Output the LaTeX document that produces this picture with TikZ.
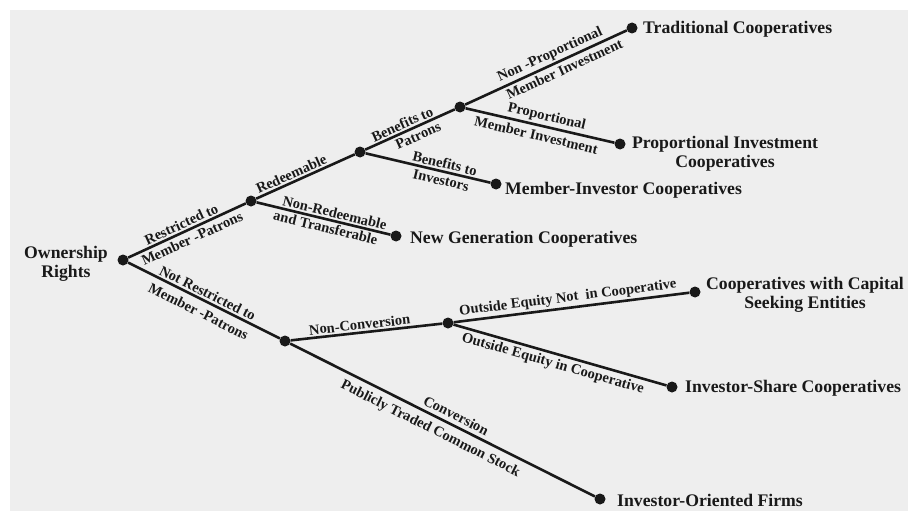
\documentclass[tikz,border=0pt]{standalone}
\usepackage{fontspec}
\setmainfont{Liberation Serif}
\definecolor{paper}{RGB}{238,238,238}
\definecolor{ink}{RGB}{25,25,25}
\begin{document}
\begin{tikzpicture}[x=1pt,y=-1pt,
  dot/.style={circle, fill=ink, inner sep=0pt, minimum size=11pt},
  conn/.style={line width=2.6pt, draw=ink},
  elab/.style={font=\fontsize{14.5}{15}\selectfont\bfseries, text=ink, inner sep=1.8pt, sloped},
  term/.style={font=\fontsize{17.7}{19}\selectfont\bfseries, text=ink, inner sep=0pt, align=center}]
\useasboundingbox (0,0) rectangle (908,511);
\fill[white] (0,0) rectangle (908,511);
\fill[paper] (10,10) rectangle (908,511);

% dots
\node[dot] (root) at (123,260) {};
\node[dot] (r1) at (251,201) {};
\node[dot] (r2) at (360,152) {};
\node[dot] (p) at (460,107) {};
\node[dot] (trad) at (632,28) {};
\node[dot] (prop) at (620,144) {};
\node[dot] (mi) at (496,184) {};
\node[dot] (ng) at (396,236) {};
\node[dot] (nr) at (285,341) {};
\node[dot] (nc) at (448,323) {};
\node[dot] (cs) at (695,292) {};
\node[dot] (is) at (672,387) {};
\node[dot] (io) at (600,499) {};

% terminal labels
\node[term, anchor=east] (tOR) at (108,264) {Ownership\\Rights};
\node[term, anchor=west] (tTrad) at (643,29) {Traditional Cooperatives};
\node[term] (tProp) at (725,154) {Proportional Investment\\Cooperatives};
\node[term, anchor=west] (tMI) at (505,190) {Member-Investor Cooperatives};
\node[term, anchor=west] (tNG) at (410,239) {New Generation Cooperatives};
\node[term] (tCS) at (805,295) {Cooperatives with Capital\\Seeking Entities};
\node[term, anchor=west] (tIS) at (685,388) {Investor-Share Cooperatives};
\node[term, anchor=west] (tIO) at (617,500) {Investor-Oriented Firms};

% connectors
\draw[conn] (root) -- node[elab, above, pos=.48] {Restricted to}
                      node[elab, below=1pt, pos=.51] {Member -Patrons} (r1);
\draw[conn] (r1) -- node[elab, above, pos=.39] {Redeemable} (r2);
\draw[conn] (r1) -- node[elab, above, pos=.57] {Non-Redeemable}
                    node[elab, below, pos=.53] {and Transferable} (ng);
\draw[conn] (r2) -- node[elab, above, pos=.45] {Benefits to}
                    node[elab, below=1pt, pos=.55] {Patrons} (p);
\draw[conn] (r2) -- node[elab, above, pos=.62] {Benefits to}
                    node[elab, below=1pt, pos=.62] {Investors} (mi);
\draw[conn] (p) -- node[elab, above, pos=.55] {Non -Proportional}
                   node[elab, below=1pt, pos=.59] {Member Investment} (trad);
\draw[conn] (p) -- node[elab, above, pos=.53] {Proportional}
                   node[elab, below=2pt, pos=.49] {Member Investment} (prop);
\draw[conn] (root) -- node[elab, above, pos=.5] {Not Restricted to}
                      node[elab, below=4pt, pos=.5] {Member -Patrons} (nr);
\draw[conn] (nr) -- node[elab, above, pos=.46] {Non-Conversion} (nc);
\draw[conn] (nc) -- node[elab, above, pos=.49] {Outside Equity Not\ \ in Cooperative} (cs);
\draw[conn] (nc) -- node[elab, below=1pt, pos=.48] {Outside Equity in Cooperative} (is);
\draw[conn] (nr) -- node[elab, above=2pt, pos=.53] {Conversion}
                    node[elab, below=4pt, pos=.48] {Publicly Traded Common Stock} (io);
\end{tikzpicture}
\end{document}
